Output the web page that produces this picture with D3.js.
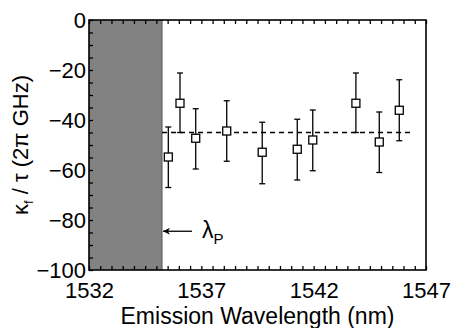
<!DOCTYPE html>
<html>
<head>
<meta charset="utf-8">
<script src="https://cdn.jsdelivr.net/npm/d3@7"></script>
<style>
  body { margin: 0; background: #fff; }
  text { font-family: "Liberation Sans", Arial, sans-serif; fill: #000; }
</style>
</head>
<body>
<div id="chart"></div>
<script>
// data
const wavelength = [1535.53, 1536.05, 1536.75, 1538.13, 1539.71, 1541.27, 1541.96, 1543.88, 1544.92, 1545.81];
const ratio      = [-54.8, -33.3, -47.3, -44.4, -52.9, -51.7, -48.0, -33.3, -48.8, -36.1];
const errLow     = [12.2, 11.7, 12.3, 12.1, 12.6, 12.3, 12.3, 11.7, 12.2, 12.2];
const errHigh    = [12.0, 12.1, 11.8, 12.1, 12.0, 12.0, 12.0, 12.1, 12.0, 12.2];
const meanValue = -45;
const meanRange = [1535.25, 1546.42];
const pumpWavelength = 1535.25;
const xTickLabels = [1532, 1537, 1542, 1547];
const yTickLabels = [0, -20, -40, -60, -80, -100];

const width = 454, height = 328;
const margin = { top: 20, right: 28, bottom: 58, left: 89 };

const svg = d3.select("#chart").append("svg")
  .attr("width", width)
  .attr("height", height);

const x = d3.scaleLinear().domain([1532, 1547]).range([margin.left, width - margin.right]);
const y = d3.scaleLinear().domain([-100, 0]).range([height - margin.bottom, margin.top]);

// shaded region below pump wavelength
svg.append("rect")
  .attr("x", x(1532))
  .attr("y", y(0))
  .attr("width", x(pumpWavelength) - x(1532))
  .attr("height", y(-100) - y(0))
  .attr("fill", "#828282");
svg.append("line")
  .attr("x1", x(pumpWavelength)).attr("x2", x(pumpWavelength))
  .attr("y1", y(0)).attr("y2", y(-100))
  .attr("stroke", "#555").attr("stroke-width", 1);

// minor ticks (inside), x every 0.5 nm on bottom and top, y every 5 on left
const xMinor = d3.range(1532, 1547.01, 0.5);
svg.append("g")
  .attr("transform", `translate(0,${y(-100)})`)
  .call(d3.axisBottom(x).tickValues(xMinor).tickSize(-4).tickFormat(""))
  .call(g => g.select(".domain").remove())
  .selectAll("line").attr("stroke-width", 1.3);
svg.append("g")
  .attr("transform", `translate(0,${y(0)})`)
  .call(d3.axisTop(x).tickValues(xMinor).tickSize(-4).tickFormat(""))
  .call(g => g.select(".domain").remove())
  .selectAll("line").attr("stroke-width", 1.3);
svg.append("g")
  .attr("transform", `translate(${x(1532)},0)`)
  .call(d3.axisLeft(y).tickValues(d3.range(-100, 0.01, 5)).tickSize(-4).tickFormat(""))
  .call(g => g.select(".domain").remove())
  .selectAll("line").attr("stroke-width", 1.3);

// tick labels
svg.append("g")
  .attr("transform", `translate(0,${y(-100)})`)
  .call(d3.axisBottom(x).tickValues(xTickLabels).tickSize(0).tickPadding(12).tickFormat(d3.format("d")))
  .call(g => g.select(".domain").remove())
  .selectAll("text")
  .style("font-size", "22px")
  .attr("font-family", "Liberation Sans, Arial, sans-serif");
svg.append("g")
  .attr("transform", `translate(${x(1532)},0)`)
  .call(d3.axisLeft(y).tickValues(yTickLabels).tickSize(0).tickPadding(3).tickFormat(d3.format("d")))
  .call(g => g.select(".domain").remove())
  .selectAll("text")
  .style("font-size", "22px")
  .attr("font-family", "Liberation Sans, Arial, sans-serif");

// frame
svg.append("rect")
  .attr("x", x(1532)).attr("y", y(0))
  .attr("width", x(1547) - x(1532))
  .attr("height", y(-100) - y(0))
  .attr("fill", "none").attr("stroke", "#000").attr("stroke-width", 1.6);

// mean dashed line
svg.append("line")
  .attr("x1", x(meanRange[0])).attr("x2", x(meanRange[1]))
  .attr("y1", y(meanValue)).attr("y2", y(meanValue))
  .attr("stroke", "#000").attr("stroke-width", 1.3)
  .attr("stroke-dasharray", "5,4");

// error bars + squares
const pts = wavelength.map((w, i) => ({ w, v: ratio[i], lo: ratio[i] - errLow[i], hi: ratio[i] + errHigh[i] }));
const g = svg.append("g").attr("stroke", "#000").attr("stroke-width", 1.3);
g.selectAll(".bar").data(pts).join("line")
  .attr("x1", d => x(d.w)).attr("x2", d => x(d.w))
  .attr("y1", d => y(d.lo)).attr("y2", d => y(d.hi));
g.selectAll(".capT").data(pts).join("line")
  .attr("x1", d => x(d.w) - 3).attr("x2", d => x(d.w) + 3)
  .attr("y1", d => y(d.hi)).attr("y2", d => y(d.hi));
g.selectAll(".capB").data(pts).join("line")
  .attr("x1", d => x(d.w) - 3).attr("x2", d => x(d.w) + 3)
  .attr("y1", d => y(d.lo)).attr("y2", d => y(d.lo));
g.selectAll("rect").data(pts).join("rect")
  .attr("x", d => x(d.w) - 4).attr("y", d => y(d.v) - 4)
  .attr("width", 8).attr("height", 8)
  .attr("fill", "#fff");

// pump wavelength arrow + label
const arrowY = y(-84.5);
svg.append("defs").append("marker")
  .attr("id", "arr").attr("viewBox", "0 0 10 10")
  .attr("refX", 10).attr("refY", 5)
  .attr("markerWidth", 9).attr("markerHeight", 7)
  .attr("markerUnits", "userSpaceOnUse")
  .attr("orient", "auto")
  .append("path").attr("d", "M0,0 L10,5 L0,10 L3,5 Z").attr("fill", "#000");
svg.append("line")
  .attr("x1", x(pumpWavelength) + 30).attr("x2", x(pumpWavelength) + 1)
  .attr("y1", arrowY).attr("y2", arrowY)
  .attr("stroke", "#000").attr("stroke-width", 1.3)
  .attr("marker-end", "url(#arr)");
const lab = svg.append("text")
  .attr("x", x(pumpWavelength) + 40).attr("y", arrowY + 7)
  .style("font-size", "23px");
lab.append("tspan").text("λ");
lab.append("tspan").attr("dy", 6).style("font-size", "15px").text("P");

// axis titles
svg.append("text")
  .attr("x", (x(1532) + x(1547)) / 2).attr("y", 324)
  .attr("text-anchor", "middle")
  .style("font-size", "23px")
  .text("Emission Wavelength (nm)");

const yt = svg.append("text")
  .attr("transform", `translate(28,${(y(0) + y(-100)) / 2}) rotate(-90)`)
  .attr("text-anchor", "middle")
  .style("font-size", "22px");
yt.append("tspan").text("κ");
yt.append("tspan").attr("dy", 5).style("font-size", "13px").text("f");
yt.append("tspan").attr("dy", -5).text(" / τ (2π GHz)");
</script>
</body>
</html>
